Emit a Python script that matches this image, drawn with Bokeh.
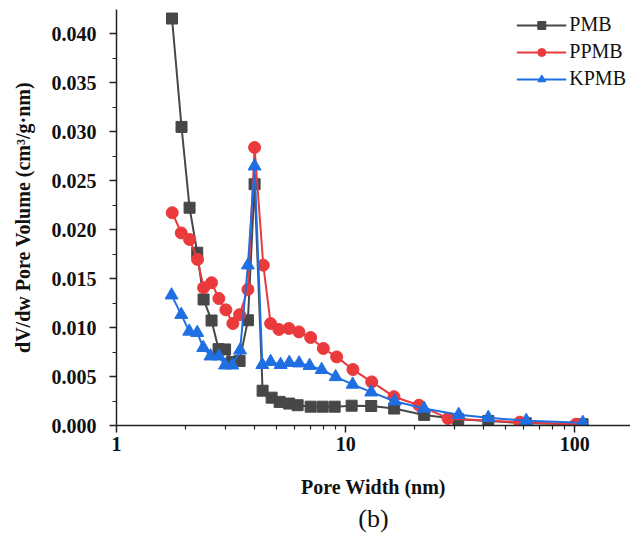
from bokeh.plotting import figure
from bokeh.models import Range1d, FixedTicker, SingleIntervalTicker, NumeralTickFormatter, PrintfTickFormatter, Title
from bokeh.embed import file_html
from bokeh.resources import INLINE

# ---- data ----
pmb_x = [1.747, 1.922, 2.084, 2.251, 2.399, 2.599, 2.789, 2.977, 3.194, 3.444, 3.745, 4.005,
         4.341, 4.752, 5.149, 5.666, 6.172, 7.035, 7.935, 8.954, 10.62, 12.93, 16.28, 22.02,
         30.99, 41.92, 61.09, 108.1]
pmb_y = [0.04153, 0.03047, 0.02222, 0.01763, 0.01286, 0.01071, 0.00779, 0.00776, 0.00649,
         0.00659, 0.01074, 0.02462, 0.00355, 0.00284, 0.00241, 0.00224, 0.00207, 0.00192,
         0.00192, 0.00192, 0.00202, 0.00199, 0.00173, 0.00108, 0.00064, 0.00046, 0.00023,
         0.00013]

ppmb_x = [1.751, 1.917, 2.084, 2.258, 2.399, 2.599, 2.797, 3.001, 3.220, 3.444, 3.745, 4.005,
          4.371, 4.704, 5.113, 5.655, 6.253, 7.035, 7.991, 9.136, 10.76, 12.99, 16.25, 20.9,
          27.97, 57.5, 101.0]
ppmb_y = [0.02171, 0.01965, 0.01898, 0.01694, 0.01406, 0.01457, 0.01296, 0.01180, 0.01041,
          0.01131, 0.01388, 0.02837, 0.01636, 0.01041, 0.00980, 0.00990, 0.00955, 0.00898,
          0.00786, 0.00700, 0.00571, 0.00445, 0.00294, 0.00207, 0.00072, 0.00034, 0.00013]

kpmb_x = [1.739, 1.917, 2.077, 2.251, 2.391, 2.573, 2.797, 2.977, 3.201, 3.462, 3.745, 4.005,
          4.328, 4.704, 5.201, 5.677, 6.265, 6.964, 7.855, 9.045, 10.73, 12.93, 16.37, 21.98,
          31.14, 41.92, 61.4, 108.4]
kpmb_y = [0.01330, 0.01131, 0.00960, 0.00947, 0.00794, 0.00707, 0.00707, 0.00615, 0.00615,
          0.00768, 0.01636, 0.02646, 0.00620, 0.00651, 0.00620, 0.00641, 0.00636, 0.00610,
          0.00569, 0.00496, 0.00419, 0.00340, 0.00248, 0.00173, 0.00110, 0.00080, 0.00049,
          0.00029]

x_major_ticks = [1, 10, 100]
x_minor_ticks = [2, 3, 4, 5, 6, 7, 8, 9, 20, 30, 40, 50, 60, 70, 80, 90]

SERIF = "Liberation Serif"
C_PMB = "#474747"
C_PPMB = "#ea3a3c"
C_KPMB = "#1f6fe2"

p = figure(width=630, height=534, x_axis_type="log",
           x_range=Range1d(1, 175), y_range=Range1d(0, 0.04245),
           output_backend="svg", toolbar_location=None,
           min_border_left=116, min_border_right=0, min_border_top=9, min_border_bottom=109)
p.outline_line_color = None
p.xgrid.visible = False
p.ygrid.visible = False
p.background_fill_color = "white"
p.border_fill_color = "white"

lw = 2
p.line(pmb_x, pmb_y, color=C_PMB, line_width=lw, legend_label="PMB")
p.scatter(pmb_x, pmb_y, marker="square", size=11, color=C_PMB, legend_label="PMB")
p.line(ppmb_x, ppmb_y, color=C_PPMB, line_width=lw, legend_label="PPMB")
p.scatter(ppmb_x, ppmb_y, marker="circle", size=12, color=C_PPMB, legend_label="PPMB")
p.line(kpmb_x, kpmb_y, color=C_KPMB, line_width=lw, legend_label="KPMB")
p.scatter(kpmb_x, kpmb_y, marker="triangle", size=13, color=C_KPMB, legend_label="KPMB")

# axes
xa = p.xaxis[0]
xa.ticker = FixedTicker(ticks=x_major_ticks, minor_ticks=x_minor_ticks)
xa.formatter = PrintfTickFormatter(format="%d")
ya = p.yaxis[0]
ya.ticker = SingleIntervalTicker(interval=0.005, num_minor_ticks=2)
ya.formatter = NumeralTickFormatter(format="0.000")

for ax in (xa, ya):
    ax.axis_line_color = "#222222"
    ax.axis_line_width = 1.5
    ax.major_tick_line_color = "#222222"
    ax.major_tick_line_width = 1.5
    ax.minor_tick_line_color = "#222222"
    ax.minor_tick_line_width = 1.2
    ax.major_tick_in = 0
    ax.major_tick_out = 7
    ax.minor_tick_in = 0
    ax.minor_tick_out = 4
    ax.major_label_text_font = SERIF
    ax.major_label_text_font_style = "bold"
    ax.major_label_text_font_size = "20px"
    ax.major_label_text_color = "#111111"
    ax.axis_label_text_font = SERIF
    ax.axis_label_text_font_style = "bold"
    ax.axis_label_text_font_size = "20px"
    ax.axis_label_text_color = "#111111"

xa.axis_label = "Pore Width (nm)"
xa.major_label_standoff = 4
xa.axis_label_standoff = 22
ya.axis_label = "dV/dw Pore Volume (cm³/g·nm)"
ya.major_label_standoff = 13
ya.axis_label_standoff = 15

p.add_layout(Title(text="(b)", align="center", text_font=SERIF, text_font_style="normal",
                   text_font_size="26px", text_color="#111111", standoff=3), "below")

lg = p.legend[0]
lg.location = "top_right"
lg.border_line_color = None
lg.background_fill_alpha = 0
lg.margin = 4
lg.padding = 0
lg.spacing = 4
lg.glyph_width = 50
lg.glyph_height = 20
lg.label_standoff = 3
lg.label_text_font = SERIF
lg.label_text_font_size = "20px"
lg.label_text_color = "#111111"

open("out.html", "w").write(file_html(p, INLINE))
